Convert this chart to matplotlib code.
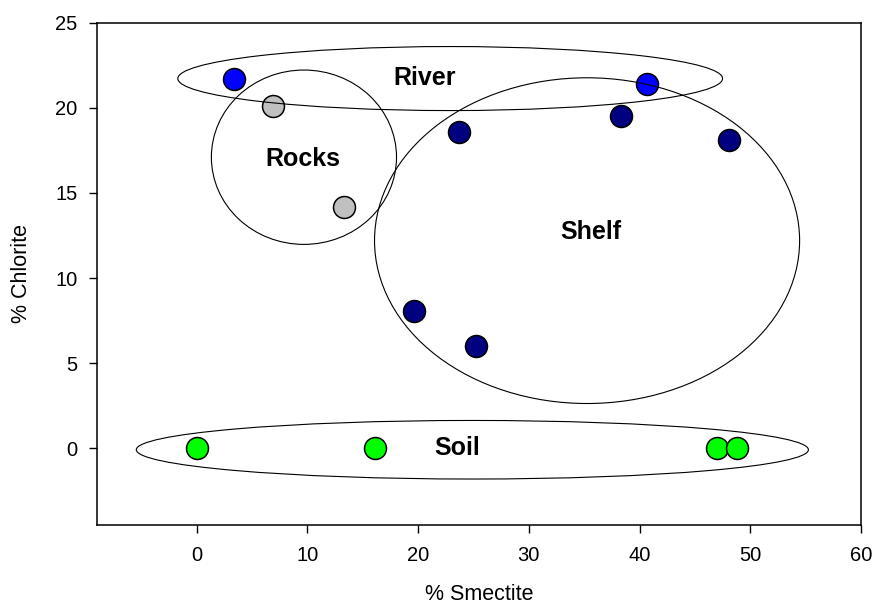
import matplotlib
matplotlib.use("Agg")
import matplotlib.pyplot as plt
from matplotlib.patches import Ellipse

plt.rcParams['font.family'] = ['Liberation Sans', 'DejaVu Sans']

# Data
river_x = [3.4, 40.7]
river_y = [21.7, 21.4]
rocks_x = [6.9, 13.3]
rocks_y = [20.1, 14.2]
shelf_x = [23.7, 38.3, 48.1, 19.6, 25.2]
shelf_y = [18.6, 19.5, 18.1, 8.05, 6.0]
soil_x = [0.0, 16.1, 47.0, 48.8]
soil_y = [0.0, 0.0, 0.0, 0.0]

groups = [
    (river_x, river_y, '#0000FF'),
    (rocks_x, rocks_y, '#C0C0C0'),
    (shelf_x, shelf_y, '#000080'),
    (soil_x, soil_y, '#00FF00'),
]

# Group ellipses: (center x, center y, width, height)
ellipse_names = ['River', 'Rocks', 'Shelf', 'Soil']
ellipse_cx = [22.9, 9.69, 35.26, 24.9]
ellipse_cy = [21.72, 17.1, 12.2, -0.08]
ellipse_w = [49.2, 16.72, 38.39, 60.7]
ellipse_h = [3.76, 10.24, 19.13, 3.44]
label_x = [20.6, 9.6, 35.6, 23.5]
label_y = [21.73, 17.0, 12.7, 0.0]

xticks = [0, 10, 20, 30, 40, 50, 60]
yticks = [0, 5, 10, 15, 20, 25]

fig = plt.figure(figsize=(8.72, 6.05), dpi=100)
ax = fig.add_axes([97/872, (605-525)/605, 764/872, 502.3/605])

for xs, ys, c in groups:
    ax.scatter(xs, ys, s=250, c=c, edgecolors='black', linewidths=1.1, zorder=3)

for cx, cy, w, h in zip(ellipse_cx, ellipse_cy, ellipse_w, ellipse_h):
    ax.add_patch(Ellipse((cx, cy), w, h, fill=False, edgecolor='black',
                         linewidth=0.8, zorder=4))

for name, lx, ly in zip(ellipse_names, label_x, label_y):
    ax.text(lx, ly, name, ha='center', va='center', fontsize=18,
            fontweight='bold', zorder=5)

ax.set_xlim(-9, 60)
ax.set_ylim(-4.5, 25)
ax.set_xticks(xticks)
ax.set_yticks(yticks)
ax.tick_params(axis='both', direction='out', length=6, width=1.0,
               labelsize=14.5)
ax.tick_params(axis='x', pad=9)
ax.tick_params(axis='y', pad=8)
for sp in ax.spines.values():
    sp.set_linewidth(1.1)

ax.set_xlabel('% Smectite', fontsize=15.5)
ax.set_ylabel('% Chlorite', fontsize=15.5)
ax.xaxis.set_label_coords(0.5, -0.118)
ax.yaxis.set_label_coords(-0.085, 0.5)

fig.savefig('out.png', dpi=100)
